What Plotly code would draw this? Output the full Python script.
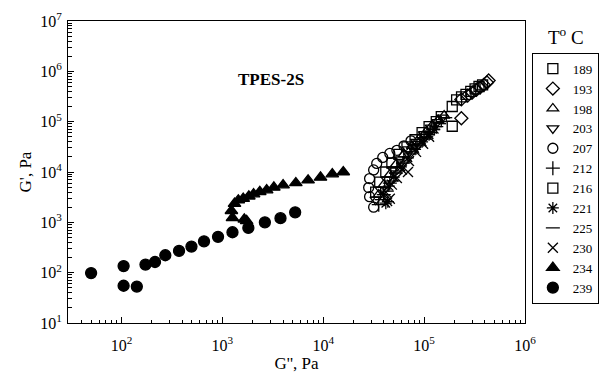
import plotly.graph_objects as go

# ---- data ----
temps = ["189", "193", "198", "203", "207", "212", "216", "221", "225", "230", "234", "239"]
symbols = ["square-open", "diamond-open", "triangle-up-open", "triangle-down-open",
           "circle-open", "cross-thin-open", "square-open", "asterisk-open",
           "line-ew-open", "x-thin-open", "triangle-up", "circle"]

g2_189 = [190e3, 190e3, 210e3, 235e3, 260e3, 290e3, 320e3, 350e3, 380e3]
g1_189 = [81e3, 200e3, 270e3, 310e3, 350e3, 400e3, 450e3, 500e3, 540e3]

g2_193 = [234e3, 234e3, 270e3, 300e3, 330e3, 360e3, 390e3, 420e3, 436e3]
g1_193 = [117e3, 277e3, 330e3, 380e3, 430e3, 480e3, 540e3, 600e3, 660e3]

g2_198 = [35.5e3, 39.8e3, 45.7e3, 52.5e3, 63.1e3, 75.9e3, 89.1e3, 105e3, 120e3, 138e3, 158e3]
g1_198 = [3.55e3, 5.62e3, 8.91e3, 14.1e3, 22.4e3, 33.1e3, 45.7e3, 63.1e3, 83.2e3, 107e3, 132e3]

g2_203 = [33.1e3, 37.2e3, 42.7e3, 49.0e3, 57.5e3, 69.2e3, 83.2e3, 100e3, 117e3, 135e3, 151e3]
g1_203 = [2.82e3, 4.47e3, 7.08e3, 11.2e3, 17.8e3, 28.2e3, 39.8e3, 56.2e3, 75.9e3, 97.7e3, 120e3]

g2_207 = [31.6e3, 28.8e3, 28.2e3, 28.8e3, 31.6e3, 33.9e3, 38.9e3, 45.7e3, 53.7e3, 63.1e3, 74.1e3]
g1_207 = [2.0e3, 3.24e3, 4.90e3, 7.41e3, 11.0e3, 14.8e3, 19.5e3, 23.4e3, 26.9e3, 33.1e3, 41.7e3]

g2_212 = [35.5e3, 39.8e3, 45.7e3, 52.5e3, 61.7e3, 72.4e3, 85.1e3, 100e3, 115e3, 132e3]
g1_212 = [2.24e3, 3.55e3, 6.03e3, 9.55e3, 15.1e3, 22.9e3, 33.1e3, 45.7e3, 60.3e3, 79.4e3]

g2_216 = [33.1e3, 36.3e3, 41.7e3, 47.9e3, 56.2e3, 67.6e3, 81.3e3, 95.5e3, 112e3, 132e3, 148e3]
g1_216 = [3.98e3, 6.31e3, 10.0e3, 15.1e3, 22.4e3, 31.6e3, 43.7e3, 60.3e3, 79.4e3, 100e3, 126e3]

g2_221 = [41.7e3, 43.7e3, 39.8e3, 44.7e3, 50.1e3, 58.9e3, 69.2e3, 81.3e3, 95.5e3, 112e3, 126e3]
g1_221 = [2.40e3, 2.57e3, 3.55e3, 5.25e3, 7.94e3, 12.6e3, 19.1e3, 28.2e3, 39.8e3, 55.0e3, 70.8e3]

g2_225 = [38.0e3, 42.7e3, 47.9e3, 55.0e3, 64.6e3, 75.9e3, 89.1e3, 105e3, 123e3, 141e3, 162e3]
g1_225 = [2.82e3, 4.17e3, 6.61e3, 10.5e3, 16.6e3, 25.1e3, 36.3e3, 50.1e3, 69.2e3, 91.2e3, 120e3]

g2_230 = [45.7e3, 41.7e3, 47.9e3, 53.7e3, 69.2e3, 60.3e3, 70.8e3, 83.2e3, 97.7e3, 112e3]
g1_230 = [2.95e3, 3.98e3, 5.62e3, 7.59e3, 10.0e3, 11.2e3, 16.6e3, 25.1e3, 36.3e3, 50.1e3]

g2_234 = [1230, 1260, 1320, 1440, 1650, 1740, 1610, 1830, 2040, 2350, 2750, 3240, 4000,
          5350, 7080, 9400, 12300, 15800]
g1_234 = [1700, 1230, 2350, 2750, 1150, 1070, 2960, 3300, 3640, 4050, 4380, 4940, 5500,
          6060, 6870, 7800, 9100, 10000]

g2_239 = [50, 105, 105, 142, 173, 215, 272, 372, 494, 658, 906, 1260, 1810, 2640, 3770, 5270]
g1_239 = [98, 135, 55, 53, 145, 163, 222, 270, 330, 420, 515, 635, 775, 1000, 1210, 1580]

series_x = [g2_189, g2_193, g2_198, g2_203, g2_207, g2_212, g2_216, g2_221, g2_225, g2_230, g2_234, g2_239]
series_y = [g1_189, g1_193, g1_198, g1_203, g1_207, g1_212, g1_216, g1_221, g1_225, g1_230, g1_234, g1_239]

x_tickvals = [1e2, 1e3, 1e4, 1e5, 1e6]
x_ticktext = ["10<sup>2</sup>", "10<sup>3</sup>", "10<sup>4</sup>", "10<sup>5</sup>", "10<sup>6</sup>"]
y_tickvals = [1e1, 1e2, 1e3, 1e4, 1e5, 1e6, 1e7]
y_ticktext = ["10<sup>1</sup>", "10<sup>2</sup>", "10<sup>3</sup>", "10<sup>4</sup>",
              "10<sup>5</sup>", "10<sup>6</sup>", "10<sup>7</sup>"]
minor_vals = [k * 10 ** n for n in range(1, 7) for k in range(2, 10)]

FONT = "Liberation Serif, Times New Roman, serif"

fig = go.Figure()
for name, sym, xs, ys in zip(temps, symbols, series_x, series_y):
    filled = sym in ("triangle-up", "circle")
    fig.add_trace(go.Scatter(
        x=xs, y=ys, mode="markers", name=name,
        marker=dict(symbol=sym, size=10 if not filled else 11, color="black",
                    line=dict(color="black", width=1.3)),
    ))

axis_common = dict(
    type="log", showline=True, mirror=True, linecolor="black", linewidth=1,
    ticks="inside", ticklen=6, tickcolor="black", showgrid=False, zeroline=False,
    minor=dict(ticks="inside", ticklen=3.5, tickcolor="black", showgrid=False,
               tickmode="array", tickvals=minor_vals),
    tickfont=dict(family=FONT, size=16, color="black"),
)

fig.update_xaxes(range=[1.47, 6], tickvals=x_tickvals, ticktext=x_ticktext,
                 ticklabelstandoff=8,
                 title=dict(text="G'', Pa", font=dict(family=FONT, size=17, color="black"),
                            standoff=2),
                 **axis_common)
fig.update_yaxes(range=[1, 7], tickvals=y_tickvals, ticktext=y_ticktext,
                 ticklabelstandoff=2,
                 title=dict(text="G', Pa", font=dict(family=FONT, size=17, color="black"),
                            standoff=4),
                 **axis_common)

fig.add_annotation(text="<b>TPES-2S</b>", xref="paper", yref="paper",
                   x=0.445, y=0.845, showarrow=False,
                   font=dict(family=FONT, size=17, color="black"))
fig.add_annotation(text="T<sup>o</sup> C", xref="paper", yref="paper",
                   x=1.09, y=0.95, showarrow=False, xanchor="center", yanchor="middle",
                   font=dict(family=FONT, size=19, color="black"))

fig.update_layout(
    width=603, height=382,
    margin=dict(l=68, r=78, t=21, b=59, autoexpand=False),
    paper_bgcolor="white", plot_bgcolor="white",
    font=dict(family=FONT, size=13, color="black"),
    showlegend=True,
    legend=dict(x=1.015, y=0.895, xanchor="left", yanchor="top",
                bordercolor="black", borderwidth=1, bgcolor="white",
                font=dict(family=FONT, size=13, color="black"),
                itemsizing="trace", entrywidth=60),
)

fig.write_html("out.html")
